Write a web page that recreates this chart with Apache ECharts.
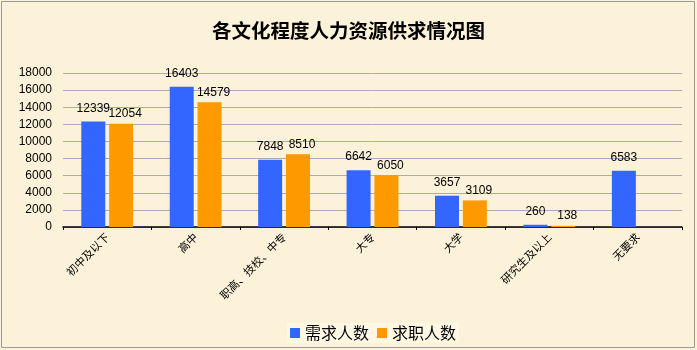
<!DOCTYPE html>
<html><head><meta charset="utf-8">
<script src="https://cdn.jsdelivr.net/npm/echarts@6/dist/echarts.min.js"></script>
<style>html,body{margin:0;padding:0;background:#fff;}#c{width:697px;height:350px;}</style>
</head><body><div id="c"></div>
<script>
const categories = ['初中及以下','高中','职高、技校、中专','大专','大学','研究生及以上','无要求'];
const demand = [12339,16403,7848,6642,3657,260,6583];
const supply = [12054,14579,8510,6050,3109,138,null];
const yTicks = [0,2000,4000,6000,8000,10000,12000,14000,16000,18000];

const chart = echarts.init(document.getElementById('c'));
const cjk = '"Noto Sans CJK SC", sans-serif';
const num = '"Liberation Sans", Arial, sans-serif';
chart.setOption({
  backgroundColor: '#fcf2da',
  animation: false,
  graphic: [{type:'rect', shape:{x:1.5,y:1.5,width:693,height:346}, style:{fill:'none', stroke:'#999', lineWidth:1}}],
  title: {text:'各文化程度人力资源供求情况图', left:'center', top:16,
    textStyle:{fontFamily:cjk, fontSize:19.5, fontWeight:'bold', color:'#000'}},
  legend: {bottom:7, left:287, itemWidth:10, itemHeight:10, itemGap:8,
    icon:'rect', textStyle:{fontFamily:cjk, fontSize:16, color:'#000'},
    backgroundColor:'rgba(255,250,235,0.6)', padding:[2,3]},
  grid: {left:63, right:15, top:73, bottom:123},
  xAxis: {type:'category', data:categories,
    axisLine:{lineStyle:{color:'#000', width:1.5}},
    axisTick:{show:true, length:3, lineStyle:{color:'#000'}},
    axisLabel:{rotate:45, interval:0, fontFamily:cjk, fontSize:11, color:'#000', margin:8}},
  yAxis: {type:'value', min:yTicks[0], max:yTicks[yTicks.length-1], interval:2000,
    axisLine:{show:false}, axisTick:{show:false},
    axisLabel:{fontFamily:num, fontSize:12, color:'#000', margin:11, formatter: v => String(v)}},
  series: [
    {name:'需求人数', type:'bar', data:demand, barWidth:24, barGap:'16%',
      itemStyle:{color:'#3366ff'},
      label:{show:true, position:'top', distance:7, fontFamily:num, fontSize:12, color:'#000'}},
    {name:'求职人数', type:'bar', data:supply, barWidth:24,
      itemStyle:{color:'#ff9900'},
      label:{show:true, position:'top', distance:4, offset:[4,0], fontFamily:num, fontSize:12, color:'#000'}}
  ]
});
chart.setOption({yAxis:{splitLine:{lineStyle:{color:'#a9aab8', width:1}}}});
</script></body></html>
